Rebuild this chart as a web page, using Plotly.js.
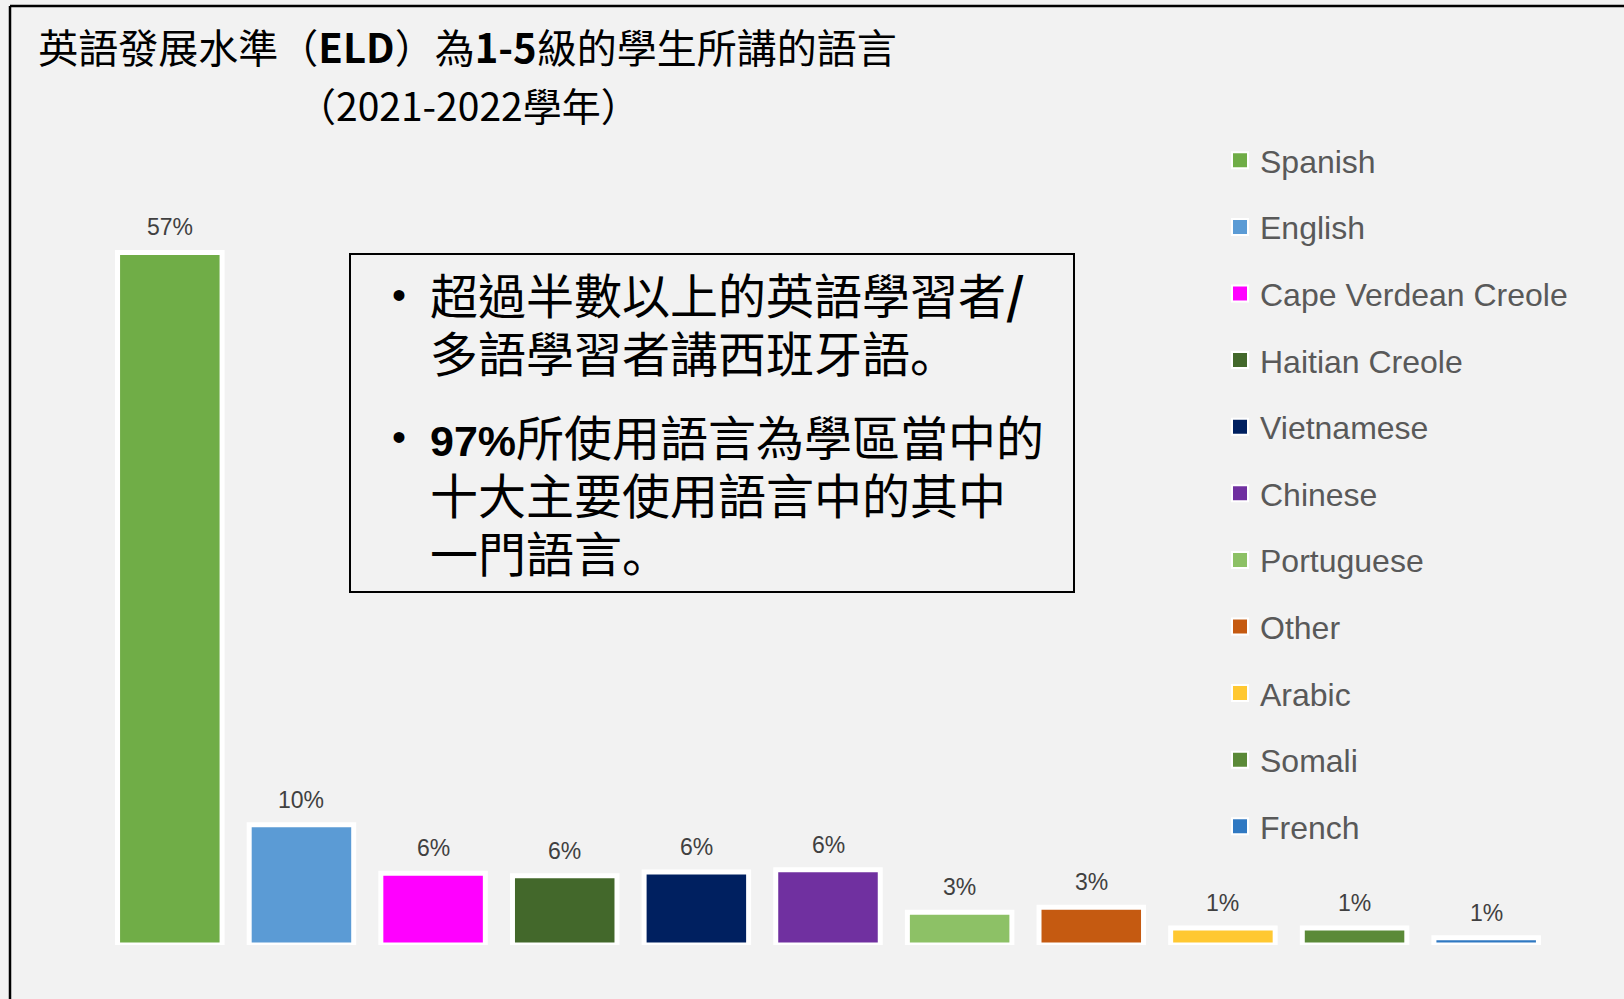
<!DOCTYPE html>
<html>
<head>
<meta charset="utf-8">
<script src="https://cdn.plot.ly/plotly-3.0.1.min.js"></script>
<style>
  html, body { margin: 0; padding: 0; background: #f2f2f2; }
  #chart { width: 1624px; height: 999px; }
</style>
</head>
<body>
<div id="chart"></div>
<script>
// ---- data ----
const languages = ['Spanish', 'English', 'Cape Verdean Creole', 'Haitian Creole', 'Vietnamese', 'Chinese', 'Portuguese', 'Other', 'Arabic', 'Somali', 'French'];
const shares = [57.0, 9.9, 5.9, 5.7, 6.0, 6.2, 2.7, 3.1, 1.4, 1.4, 0.6];
const colors = ['#70AD47', '#5B9BD5', '#FF00FF', '#43682B', '#002060', '#7030A0', '#8DC166', '#C55A11', '#FFC832', '#5B8A38', '#3079C2'];
const titleText = '英語發展水準（<b>ELD</b>）為<b>1-5</b>級的學生所講的語言';
const subtitleText = '（2021-2022學年）';
const stop = '<span style="font-family:Noto Sans CJK JP">。</span>';
const paragraph1 = ['超過半數以上的英語學習者<b>/</b>', '多語學習者講西班牙語' + stop];
const paragraph2 = ['<b><span style="font-family:Liberation Sans, Arial;font-size:43px">97%</span></b>所使用語言為學區當中的', '十大主要使用語言中的其中', '一門語言' + stop];

// ---- layout helpers ----
const W = 1624, H = 999;
const M = { l: 104, r: 72, t: 216, b: 54 };
const PW = W - M.l - M.r, PH = H - M.t - M.b;
const px2x = p => (p - M.l) / PW;
const px2y = p => (H - M.b - p) / PH;

const barTraces = languages.map((name, i) => ({
  type: 'bar',
  name: name,
  legendgroup: name,
  showlegend: false,
  x: [name],
  y: [shares[i]],
  marker: { color: colors[i], line: { color: '#ffffff', width: 5 } },
  hoverinfo: 'name+y'
}));
// legend entries (square keys with white rim, as in the original)
const legendTraces = languages.map((name, i) => ({
  type: 'scatter',
  mode: 'markers',
  name: name,
  legendgroup: name,
  showlegend: true,
  x: [null],
  y: [null],
  marker: { symbol: 'square', size: 16, color: colors[i], line: { color: '#ffffff', width: 2 } },
  hoverinfo: 'skip'
}));

const annotations = [];
languages.forEach((name, i) => {
  annotations.push({
    x: name, y: shares[i], xref: 'x', yref: 'y',
    text: Math.round(shares[i]) + '%',
    showarrow: false, yanchor: 'middle', yshift: 25,
    font: { family: 'Liberation Sans, Arial, sans-serif', size: 23, color: '#404040' }
  });
});
annotations.push({
  x: px2x(468.5), y: px2y(103.6), xref: 'paper', yref: 'paper',
  text: subtitleText, showarrow: false, xanchor: 'center', yanchor: 'middle',
  font: { family: 'Noto Sans CJK TC, sans-serif', size: 39, color: '#000000' }
});
const wrap48 = lines => lines.map(s => '<span style="font-size:48px">' + s + '</span>').join('<br>');
annotations.push({
  x: px2x(428), y: px2y(322), xref: 'paper', yref: 'paper',
  text: wrap48(paragraph1), showarrow: false, xanchor: 'left', yanchor: 'middle', align: 'left',
  font: { family: 'Noto Sans CJK TC, sans-serif', size: 44.5, color: '#000000' }
});
annotations.push({
  x: px2x(428), y: px2y(493), xref: 'paper', yref: 'paper',
  text: wrap48(paragraph2), showarrow: false, xanchor: 'left', yanchor: 'middle', align: 'left',
  font: { family: 'Noto Sans CJK TC, sans-serif', size: 44.5, color: '#000000' }
});
[295, 437].forEach(yy => {
  annotations.push({
    x: px2x(399), y: px2y(yy), xref: 'paper', yref: 'paper',
    text: '•', showarrow: false, xanchor: 'center', yanchor: 'middle',
    font: { family: 'Liberation Sans, Arial, sans-serif', size: 40, color: '#000000' }
  });
});

const shapes = [
  { type: 'rect', xref: 'paper', yref: 'paper', x0: px2x(350), x1: px2x(1074), y0: px2y(254), y1: px2y(592),
    line: { color: '#000000', width: 2 }, fillcolor: 'rgba(0,0,0,0)' },
  { type: 'line', xref: 'paper', yref: 'paper', x0: px2x(10), x1: px2x(W + 10), y0: px2y(6), y1: px2y(6),
    line: { color: '#000000', width: 2.5 } },
  { type: 'line', xref: 'paper', yref: 'paper', x0: px2x(10), x1: px2x(10), y0: px2y(6), y1: px2y(H + 10),
    line: { color: '#000000', width: 2.5 } }
];

const layout = {
  width: W, height: H,
  margin: M,
  paper_bgcolor: '#f2f2f2', plot_bgcolor: '#f2f2f2',
  title: {
    text: titleText,
    font: { family: 'Noto Sans CJK TC, sans-serif', size: 40, color: '#000000' },
    x: 467.5 / W, xref: 'container', xanchor: 'center',
    y: 1 - 49 / H, yref: 'container', yanchor: 'middle'
  },
  barmode: 'overlay',
  bargap: 0.206,
  xaxis: { type: 'category', categoryorder: 'array', categoryarray: languages, range: [-0.5, languages.length - 0.5],
           showticklabels: false, showgrid: false, zeroline: false, showline: false, ticks: '' },
  yaxis: { range: [0, 60], showticklabels: false, showgrid: false, zeroline: false, showline: false, ticks: '' },
  showlegend: true,
  legend: {
    x: px2x(1220), y: px2y(133), xanchor: 'left', yanchor: 'top',
    font: { family: 'Liberation Sans, Arial, sans-serif', size: 32, color: '#595959' },
    bgcolor: 'rgba(0,0,0,0)', traceorder: 'grouped', tracegroupgap: 22, itemwidth: 30,
    maxheight: 950
  },
  annotations: annotations,
  shapes: shapes
};

Plotly.newPlot('chart', barTraces.concat(legendTraces), layout, { displayModeBar: false, staticPlot: true });
</script>
</body>
</html>
